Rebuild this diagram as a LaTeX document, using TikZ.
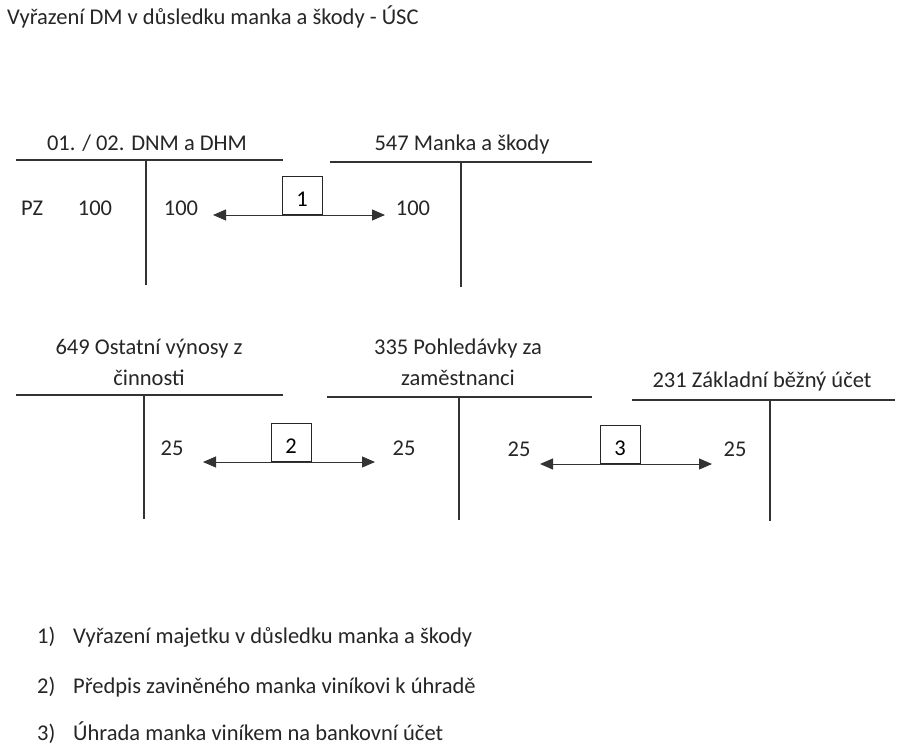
\documentclass[tikz,border=0pt]{standalone}
\usepackage{fontspec}
\setmainfont{Carlito}
\usetikzlibrary{arrows.meta, positioning}
\tikzstyle{heading} = [inner sep=0pt, font=\fontsize{22.5}{27}\selectfont, text=black!85]
\tikzstyle{txt} = [inner sep=0pt, anchor=base west, font=\fontsize{22.5}{27}\selectfont, text=black!85]
\tikzstyle{num} = [inner sep=0pt, anchor=base, font=\fontsize{22.5}{27}\selectfont, text=black!85]
\tikzstyle{tbar} = [line width=1.2pt, black!80]
\tikzstyle{opbox} = [rectangle, draw=black!85, line width=1pt, minimum width=40pt, minimum height=38pt, text height=22pt, text depth=0pt, anchor=south, inner sep=0pt, font=\fontsize{22.5}{27}\selectfont]
\tikzstyle{arrow} = [line width=1pt, black!80, {Triangle[length=13pt,width=11pt]}-{Triangle[length=13pt,width=11pt]}]

\begin{document}
\begin{tikzpicture}[x=1pt, y=-1pt]
\useasboundingbox[fill=white] (0,0) rectangle (899,746);
% title
\node (title)[txt] at (7,25){Vyřazení DM v důsledku manka a škody - ÚSC};

% first row of accounts
\node (acc1)[heading] at (147,143){01. / 02. DNM a DHM};
\draw [tbar] (16,160) -- (283,160);
\draw [tbar] (146,160) -- (146,285);
\node (acc2)[heading] at (462,145){547 Manka a škody};
\draw [tbar] (330,162) -- (592,162);
\draw [tbar] (461,162) -- (461,287);

\node (pz)[txt] at (21,215){PZ};
\node (ps)[num] at (95,215){100};
\node (d1)[num] at (181,215){100};
\node (c1)[num] at (413,215){100};
\coordinate (a1l) at (213,215);
\coordinate (a1r) at (385,215);
\draw [arrow] (a1l) -- (a1r);
\node (op1)[opbox] at (302,215){1};

% second row of accounts
\node (acc3)[heading, align=center] at (149,362){649 Ostatní výnosy z\\[4pt]činnosti};
\draw [tbar] (16,395) -- (283,395);
\draw [tbar] (144,395) -- (144,519);
\node (acc4)[heading, align=center] at (458,362){335 Pohledávky za\\[4pt]zaměstnanci};
\draw [tbar] (327,397) -- (592,397);
\draw [tbar] (459,397) -- (459,520);
\node (acc5)[heading] at (762,381){231 Základní běžný účet};
\draw [tbar] (632,400) -- (895,400);
\draw [tbar] (770,400) -- (770,521);

\node (d2)[num] at (172,455){25};
\node (c2)[num] at (404,455){25};
\coordinate (a2l) at (203,462);
\coordinate (a2r) at (375,462);
\draw [arrow] (a2l) -- (a2r);
\node (op2)[opbox] at (291,462){2};

\node (d3)[num] at (519,456){25};
\node (c3)[num] at (735,456){25};
\coordinate (a3l) at (540,464);
\coordinate (a3r) at (712,464);
\draw [arrow] (a3l) -- (a3r);
\node (op3)[opbox] at (620,464){3};

% legend
\node (n1)[txt] at (37,643){1)};
\node (t1)[txt] at (73,643){Vyřazení majetku v důsledku manka a škody};
\node (n2)[txt] at (37,693){2)};
\node (t2)[txt] at (73,693){Předpis zaviněného manka viníkovi k úhradě};
\node (n3)[txt] at (37,740){3)};
\node (t3)[txt] at (73,740){Úhrada manka viníkem na bankovní účet};
\end{tikzpicture}
\end{document}
